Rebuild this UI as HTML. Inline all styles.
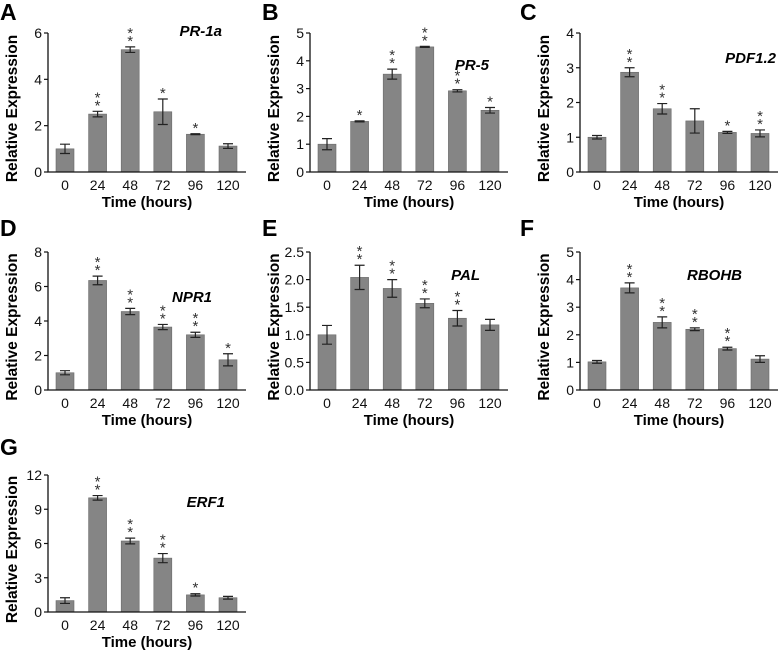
<!DOCTYPE html>
<html><head><meta charset="utf-8"><style>
body{margin:0;background:#fff;font-family:"Liberation Sans",sans-serif}
svg{display:block}
</style></head><body>
<svg id="fig" width="778" height="650"></svg>
<script>
const categories=["0","24","48","72","96","120"];
const valsA=[1.0,2.5,5.28,2.6,1.63,1.12], errA=[0.2,0.12,0.12,0.55,0.02,0.1], starsA=["","**","**","*","*",""];
const valsB=[1.0,1.82,3.52,4.5,2.92,2.22], errB=[0.2,0.02,0.18,0.02,0.04,0.1], starsB=["","*","**","**","**","*"];
const valsC=[1.0,2.87,1.82,1.47,1.14,1.11], errC=[0.05,0.13,0.15,0.35,0.03,0.1], starsC=["","**","**","","*","**"];
const valsD=[1.0,6.35,4.55,3.65,3.2,1.75], errD=[0.12,0.25,0.18,0.15,0.15,0.35], starsD=["","**","**","**","**","*"];
const valsE=[1.0,2.04,1.84,1.57,1.3,1.18], errE=[0.17,0.22,0.16,0.08,0.14,0.1], starsE=["","**","**","**","**",""];
const valsF=[1.02,3.7,2.45,2.2,1.5,1.12], errF=[0.05,0.18,0.2,0.05,0.05,0.12], starsF=["","**","**","**","**",""];
const valsG=[1.0,10.0,6.22,4.72,1.5,1.25], errG=[0.25,0.2,0.25,0.4,0.1,0.12], starsG=["","**","**","**","*",""];
const ticksA=["0","2","4","6"], ticksB=["0","1","2","3","4","5"], ticksC=["0","1","2","3","4"];
const ticksD=["0","2","4","6","8"], ticksE=["0.0","0.5","1.0","1.5","2.0","2.5"], ticksF=["0","1","2","3","4","5"];
const ticksG=["0","3","6","9","12"];

const panels=[
 {id:"a",L:"A",gene:"PR-1a",v:valsA,e:errA,s:starsA,t:ticksA,ax:48,top:33,bot:172,lx:0,ly:20,gx:222,gy:36},
 {id:"b",L:"B",gene:"PR-5",v:valsB,e:errB,s:starsB,t:ticksB,ax:310,top:33,bot:172,lx:262,ly:20,gx:489,gy:70},
 {id:"c",L:"C",gene:"PDF1.2",v:valsC,e:errC,s:starsC,t:ticksC,ax:580,top:33,bot:172,lx:520,ly:20,gx:776,gy:63},
 {id:"d",L:"D",gene:"NPR1",v:valsD,e:errD,s:starsD,t:ticksD,ax:48,top:252,bot:390,lx:0,ly:236,gx:212,gy:302},
 {id:"e",L:"E",gene:"PAL",v:valsE,e:errE,s:starsE,t:ticksE,ax:310,top:252,bot:390,lx:262,ly:236,gx:480,gy:280},
 {id:"f",L:"F",gene:"RBOHB",v:valsF,e:errF,s:starsF,t:ticksF,ax:580,top:252,bot:390,lx:520,ly:236,gx:742,gy:280},
 {id:"g",L:"G",gene:"ERF1",v:valsG,e:errG,s:starsG,t:ticksG,ax:48,top:475,bot:612,lx:0,ly:455,gx:225,gy:507}
];
const NS="http://www.w3.org/2000/svg", svg=document.getElementById("fig");
function mk(tag,at,parent,txt){const el=document.createElementNS(NS,tag);for(const k in at)el.setAttribute(k,at[k]);if(txt!==undefined)el.textContent=txt;(parent||svg).appendChild(el);return el;}
panels.forEach(p=>{
 const g=mk("g",{});
 
 
 const ymax=parseFloat(p.t[p.t.length-1]);
 const y=v=>p.bot-(v/ymax)*(p.bot-p.top);
 const x=i=>p.ax+17+i*32.6;
 const lt=mk("text",{x:p.lx,y:p.ly,"font-size":23,"font-weight":"bold"},g,p.L);
 
 
 p.v.forEach((v,i)=>{
  const b=mk("rect",{x:x(i)-9,y:y(v),width:18,height:p.bot-y(v),fill:"#858585",stroke:"#6a6a6a","stroke-width":0.6},g);
  
  
  const hi=y(v+p.e[i]),lo=y(v-p.e[i]);
  const eb=mk("path",{d:`M${x(i)},${hi}V${lo}M${x(i)-5},${hi}H${x(i)+5}M${x(i)-5},${lo}H${x(i)+5}`,stroke:"#222","stroke-width":1.2,fill:"none"},g);
  
  
  const n=p.s[i].length;
  for(let k=0;k<n;k++){
   const st=mk("text",{x:x(i),y:hi-1-k*8,"font-size":15,"text-anchor":"middle",fill:"#333"},g,"*");
   
   
  }
  const tl=mk("text",{x:x(i),y:p.bot+18,"font-size":14,"text-anchor":"middle",fill:"#111"},g,categories[i]);
  
  
 });
 mk("path",{d:`M${p.ax},${p.top}V${p.bot}H${p.ax+198}`,stroke:"#111","stroke-width":1.3,fill:"none"},g);
 p.t.forEach(t=>{
  const ty=y(parseFloat(t));
  mk("path",{d:`M${p.ax-4},${ty}H${p.ax}`,stroke:"#111","stroke-width":1.2},g);
  const yl=mk("text",{x:p.ax-6,y:ty+5,"font-size":14,"text-anchor":"end",fill:"#111"},g,t);
  
  
 });
 const xt=mk("text",{x:p.ax+99,y:p.bot+35,"font-size":15,"font-weight":"bold","text-anchor":"middle"},g,"Time (hours)");
 
 
 const cy=(p.top+p.bot)/2+6;
 const tx=p.ax-31;
 const yt=mk("text",{x:tx,y:cy,"font-size":15.5,"font-weight":"bold","text-anchor":"middle",transform:`rotate(-90 ${tx} ${cy})`},g,"Relative Expression");
 
 
 const gl=mk("text",{x:p.gx,y:p.gy,"font-size":15,"font-weight":"bold","font-style":"italic","text-anchor":"end"},g,p.gene);
 
 
});
</script>
</body></html>
